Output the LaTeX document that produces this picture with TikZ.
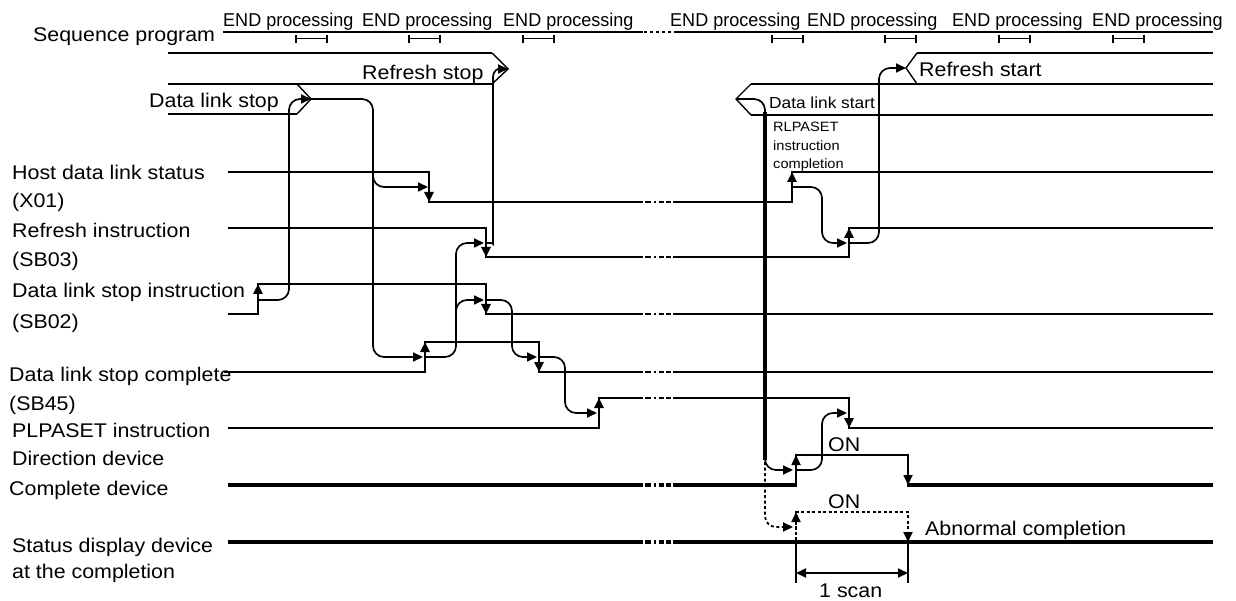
\documentclass[tikz,border=0pt]{standalone}
\usepackage{fontspec}
\newfontfamily\lab{Liberation Sans}[FakeStretch=1.08]
\newfontfamily\labc{Liberation Sans}[FakeStretch=0.97]
\usetikzlibrary{arrows.meta}
\begin{document}
\begin{tikzpicture}[x=1pt,y=-1pt,
  sig/.style={line width=2.6pt},
  heavy/.style={line width=3.6pt},
  brk/.style={line width=2.6pt,dash pattern=on 6pt off 3pt on 2pt off 3pt on 5pt off 2pt on 5pt off 30pt},
  hbrk/.style={line width=3.6pt,dash pattern=on 6pt off 3pt on 2pt off 3pt on 5pt off 2pt on 5pt off 30pt},
  sbrk/.style={line width=2.6pt,dash pattern=on 3pt off 3pt},
  con/.style={line width=1.7pt,rounded corners=11pt},
  thickcon/.style={line width=3.2pt},
  dotcon/.style={line width=1.8pt,rounded corners=11pt,dash pattern=on 3pt off 2.5pt},
  band/.style={line width=2.4pt},
  chev/.style={line width=1.4pt},
  tick/.style={line width=1.8pt},
  tip/.style={-{Triangle[length=10pt,width=9pt]}},
  dtip/.style={{Triangle[length=10pt,width=9pt]}-{Triangle[length=10pt,width=9pt]}},
  txt/.style={anchor=base west,inner sep=0pt,font=\lab\fontsize{19.8}{23}\selectfont},
  endp/.style={anchor=base west,inner sep=0pt,font=\labc\fontsize{18.6}{21}\selectfont},
  mid/.style={anchor=base west,inner sep=0pt,font=\lab\fontsize{16}{19}\selectfont},
  small/.style={anchor=base west,inner sep=0pt,font=\lab\fontsize{13.5}{16}\selectfont},
]
\useasboundingbox (0,0) rectangle (1236,601);

% ---------- left labels ----------
\node[txt] (lseq) at (33,42) {Sequence program};
\node[txt] (lx01a) at (12,180) {Host data link status};
\node[txt] (lx01b) at (12,208) {(X01)};
\node[txt] (lsb03a) at (12,238) {Refresh instruction};
\node[txt] (lsb03b) at (12,267) {(SB03)};
\node[txt] (lsb02a) at (12,298) {Data link stop instruction};
\node[txt] (lsb02b) at (12,328) {(SB02)};
\node[txt] (lsb45a) at (9,381) {Data link stop complete};
\node[txt] (lsb45b) at (9,410) {(SB45)};
\node[txt] (lpla) at (12,437) {PLPASET instruction};
\node[txt] (lplb) at (12,465) {Direction device};
\node[txt] (lcomp) at (9,495) {Complete device};
\node[txt] (lsta) at (12,552) {Status display device};
\node[txt] (lstb) at (12,578) {at the completion};

% ---------- band labels ----------
\node[txt] (lrs) at (362,80) {Refresh stop};
\node[txt] (lds) at (149,108) {Data link stop};
\node[txt] (lrst) at (919,77) {Refresh start};
\node[mid] (ldst) at (769,109) {Data link start};
\node[small] (lrl1) at (773,132) {RLPASET};
\node[small] (lrl2) at (773,151) {instruction};
\node[small] (lrl3) at (773,169) {completion};

\foreach \x/\n in {223/1,362/2,503/3,670/4,807/5,952/6,1092/7}
  \node[endp] (end\n) at (\x,27) {END processing};

\node[txt] (on1) at (828,451) {ON};
\node[txt] (on2) at (828,508) {ON};
\node[txt] (abn) at (925,535) {Abnormal completion};
\node[txt] (scan) at (819,597) {1 scan};

% ---------- sequence program ----------
\draw[sig] (223,32) -- (643,32);
\draw[sbrk] (644,32) -- (672,32);
\draw[sig] (674,32) -- (1213,32);
\foreach \a in {296,409,523,772,885,999,1113}
  \draw[tick] (\a,35) -- (\a,43) (\a,38.5) -- (\a+31,38.5) (\a+31,35) -- (\a+31,43);

% ---------- refresh / data link bands ----------
\coordinate (rsv) at (508,69);
\coordinate (dsv) at (311,99);
\coordinate (rstv) at (906,68);
\coordinate (dstv) at (736,99);
\draw[band] (168,53) -- (492,53);
\draw[band] (168,84) -- (492,84);
\draw[chev] (492,53) -- (rsv) -- (492,84);
\draw[band] (168,114) -- (297,114);
\draw[chev] (297,84) -- (dsv) -- (297,114);
\draw[band] (917,53) -- (1213,53);
\draw[band] (751,84) -- (1213,84);
\draw[band] (751,115) -- (1213,115);
\draw[chev] (917,53) -- (rstv) -- (917,84);
\draw[chev] (751,84) -- (dstv) -- (751,115);

% ---------- X01 ----------
\draw[sig] (228,172) -- (429,172) -- (429,202) -- (643,202);
\draw[brk] (645,202) -- (671,202);
\draw[sig] (673,202) -- (792,202) -- (792,172) -- (1213,172);
\draw[sig,tip] (429,186) -- (429,202);
\draw[sig,tip] (792,190) -- (792,172);
\coordinate (x01r) at (792,187);

% ---------- SB03 ----------
\draw[sig] (228,228) -- (486,228) -- (486,257) -- (643,257);
\draw[brk] (645,257) -- (671,257);
\draw[sig] (673,257) -- (849,257) -- (849,228) -- (1213,228);
\draw[sig,tip] (486,240) -- (486,257);
\draw[sig,tip] (849,245) -- (849,228);
\coordinate (sb03f) at (486,243);
\coordinate (sb03r) at (849,243);

% ---------- SB02 ----------
\draw[sig] (228,314) -- (258,314) -- (258,284) -- (486,284) -- (486,314) -- (643,314);
\draw[brk] (645,314) -- (671,314);
\draw[sig] (673,314) -- (1213,314);
\draw[sig,tip] (258,302) -- (258,284);
\draw[sig,tip] (486,298) -- (486,314);
\coordinate (sb02r) at (258,300);
\coordinate (sb02f) at (486,300);

% ---------- SB45 ----------
\draw[sig] (224,372) -- (425,372) -- (425,342) -- (539,342) -- (539,372) -- (643,372);
\draw[brk] (645,372) -- (671,372);
\draw[sig] (673,372) -- (1213,372);
\draw[sig,tip] (425,360) -- (425,342);
\draw[sig,tip] (539,354) -- (539,372);
\coordinate (sb45r) at (425,357);
\coordinate (sb45f) at (539,357);

% ---------- PLPASET direction device ----------
\draw[sig] (228,428) -- (599,428) -- (599,398) -- (643,398);
\draw[brk] (645,398) -- (671,398);
\draw[sig] (673,398) -- (849,398) -- (849,428) -- (1213,428);
\draw[sig,tip] (599,416) -- (599,398);
\draw[sig,tip] (849,410) -- (849,428);

% ---------- Complete device ----------
\draw[heavy] (228,485) -- (643,485);
\draw[hbrk] (645,485) -- (671,485);
\draw[heavy] (673,485) -- (797,485);
\draw[con,rounded corners=0pt] (796,486) -- (796,455) -- (908,455) -- (908,486);
\draw[heavy] (907,485) -- (1213,485);
\draw[con,tip,rounded corners=0pt] (796,472) -- (796,455);
\draw[con,tip,rounded corners=0pt] (908,468) -- (908,485);
\coordinate (compr) at (796,470);

% ---------- Status display ----------
\draw[heavy] (228,542) -- (643,542);
\draw[hbrk] (645,542) -- (671,542);
\draw[heavy] (673,542) -- (1213,542);
\draw[dotcon,rounded corners=0pt] (796,540) -- (796,512) -- (908,512) -- (908,540);
\draw[dotcon,tip,rounded corners=0pt] (796,530) -- (796,512);
\draw[dotcon,tip,rounded corners=0pt] (908,526) -- (908,542);

% ---------- 1 scan ----------
\draw[tick] (796,542) -- (796,583);
\draw[tick] (908,542) -- (908,583);
\draw[tick,dtip] (796,573) -- (908,573);

% ---------- connectors ----------
\draw[con,tip] (sb02r) -- (289,300) -- (289,99) -- (dsv);
\draw[con,tip] (dsv) -- (373,99) -- (373,187) -- (428,187);
\draw[con,tip] (373,175) -- (373,357) -- (423,357);
\draw[con,tip] (sb45r) -- (456,357) -- (456,243) -- (484,243);
\draw[con,tip] (456,320) -- (456,300) -- (484,300);
\draw[con,tip] (sb02f) -- (512,300) -- (512,357) -- (537,357);
\draw[con,tip] (sb03f) .. controls (493,243) .. (493,233) -- (493,88) .. controls (493,73) and (496,69) .. (rsv);
\draw[con,tip] (sb45f) -- (565,357) -- (565,413) -- (597,413);
\draw[con] (dstv) -- (765,99) -- (765,125);
\draw[thickcon] (765,112) -- (765,460);
\draw[con,tip] (765,450) -- (765,470) -- (793,470);
\draw[dotcon,tip] (765,462) -- (765,527) -- (793,527);
\draw[con,tip] (compr) -- (822,470) -- (822,413) -- (847,413);
\draw[con,tip] (x01r) -- (822,187) -- (822,243) -- (847,243);
\draw[con,tip] (sb03r) -- (879,243) -- (879,68) -- (rstv);
\end{tikzpicture}
\end{document}
